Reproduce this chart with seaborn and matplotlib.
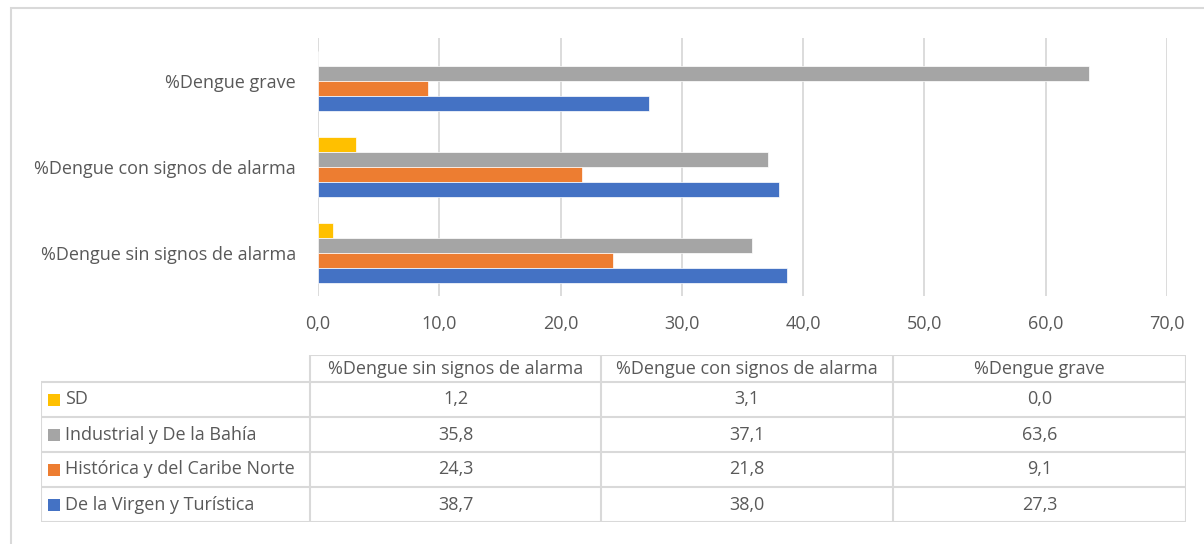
import pandas as pd
import matplotlib
matplotlib.use('Agg')
import matplotlib.pyplot as plt
from matplotlib.patches import Rectangle
import seaborn as sns

# --- Datos ---
categorias = ['%Dengue sin signos de alarma', '%Dengue con signos de alarma', '%Dengue grave']
zonas = ['De la Virgen y Turística', 'Histórica y del Caribe Norte', 'Industrial y De la Bahía', 'SD']
virgen = [38.7, 38.0, 27.3]
historica = [24.3, 21.8, 9.1]
industrial = [35.8, 37.1, 63.6]
sd = [1.2, 3.1, 0.0]
colores = ['#4472C4', '#ED7D31', '#A5A5A5', '#FFC000']
ticks_x = [0, 10, 20, 30, 40, 50, 60, 70]

valores = {zonas[0]: virgen, zonas[1]: historica, zonas[2]: industrial, zonas[3]: sd}
filas = []
for z in zonas:
    for c, v in zip(categorias, valores[z]):
        filas.append({'categoria': c, 'zona': z, 'valor': v})
df = pd.DataFrame(filas)

def coma(v):
    return f'{v:.1f}'.replace('.', ',')

sns.set_theme(style='white')
plt.rcParams['font.family'] = ['Open Sans', 'DejaVu Sans']
TXT = '#595959'
GRID = '#D9D9D9'
FS = 13

W, H = 1204, 544
fig = plt.figure(figsize=(W / 100, H / 100), dpi=100)

# borde del área del gráfico
fig.patches.append(Rectangle((11 / W, -0.1), 1.2, 1 - 8.5 / H + 0.1, transform=fig.transFigure,
                             fill=False, edgecolor=GRID, linewidth=1.5))

# --- Barras ---
ax = fig.add_axes([318 / W, 1 - 296 / H, 849 / W, 258 / H])
sns.barplot(data=df, x='valor', y='categoria', hue='zona', orient='h',
            order=categorias[::-1], hue_order=zonas[::-1],
            palette=dict(zip(zonas, colores)), width=0.69, saturation=1,
            edgecolor='white', linewidth=0.5, legend=False, ax=ax)
ax.set_xlim(0, 70)
ax.set_ylim(2.5, -0.5)
ax.set_xticks(ticks_x)
ax.set_xticklabels([coma(t) for t in ticks_x])
ax.xaxis.grid(True, color=GRID, linewidth=1.3)
ax.set_axisbelow(True)
for s in ax.spines.values():
    s.set_visible(False)
ax.set_xlabel('')
ax.set_ylabel('')
ax.tick_params(axis='y', length=0, pad=16, labelsize=FS, labelcolor=TXT)
ax.tick_params(axis='x', length=0, pad=14, labelsize=FS, labelcolor=TXT)

# --- Tabla de datos ---
tab = fig.add_axes([41 / W, 1 - 522 / H, 1145 / W, 167 / H])
tab.set_xlim(0, 1145)
tab.set_ylim(167, 0)
tab.axis('off')
cols = [0, 269, 560, 852, 1145]
rows = [0, 27, 62, 97, 132, 167]
lw = 1.5
tab.hlines(rows[0], cols[1], cols[-1], color=GRID, linewidth=lw)
tab.hlines(rows[1:], cols[0], cols[-1], color=GRID, linewidth=lw)
tab.vlines(cols[0], rows[1], rows[-1], color=GRID, linewidth=lw)
tab.vlines(cols[1:], rows[0], rows[-1], color=GRID, linewidth=lw)

for j, c in enumerate(categorias):
    tab.text((cols[j + 1] + cols[j + 2]) / 2, (rows[0] + rows[1]) / 2, c,
             ha='center', va='center', fontsize=FS, color=TXT)

orden_tabla = zonas[::-1]
for i, z in enumerate(orden_tabla):
    yc = (rows[i + 1] + rows[i + 2]) / 2
    col = colores[zonas.index(z)]
    tab.add_patch(Rectangle((7, yc - 6), 12, 12, facecolor=col, edgecolor='none'))
    tab.text(24, yc, z, ha='left', va='center', fontsize=FS, color=TXT)
    for j, v in enumerate(valores[z]):
        tab.text((cols[j + 1] + cols[j + 2]) / 2, yc, coma(v),
                 ha='center', va='center', fontsize=FS, color=TXT)

fig.savefig('out.png', dpi=100)
